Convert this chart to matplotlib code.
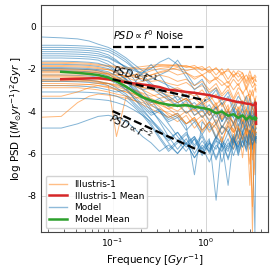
import numpy as np
import matplotlib
matplotlib.use("Agg")
import matplotlib.pyplot as plt
from matplotlib.lines import Line2D

plt.rcParams['axes.unicode_minus'] = False
plt.rcParams['font.family'] = ['DejaVu Sans']

# frequency grid of the single curves [1/Gyr]
freq = [0.015, 0.028, 0.042, 0.056, 0.07, 0.09, 0.11, 0.14, 0.17, 0.21,
        0.26, 0.32, 0.4, 0.5, 0.62, 0.76, 0.92, 1.1, 1.3, 1.5,
        1.75, 2.0, 2.25, 2.5, 2.75, 3.0, 3.2, 3.4, 3.5]

# Illustris-1 curves (log PSD)
ill_1 = [-1.75, -1.75, -1.78, -1.8, -1.85, -1.9, -1.95, -2.0, -1.95, -1.9, -1.85, -1.8, -1.82, -1.85, -1.9, -1.95, -2.0, -2.1, -2.0, -2.2, -2.1, -2.3, -2.2, -2.5, -2.3, -2.6, -2.4, -2.8, -3.0]
ill_2 = [-2.0, -2.0, -2.02, -2.05, -2.1, -2.2, -2.3, -2.35, -2.3, -2.25, -2.1, -2.0, -1.95, -2.05, -2.2, -2.4, -2.3, -2.6, -2.5, -2.8, -2.6, -3.0, -2.7, -3.2, -2.9, -3.4, -3.0, -3.6, -3.3]
ill_3 = [-2.2, -2.2, -2.2, -2.25, -2.3, -2.4, -2.5, -2.6, -2.7, -2.75, -2.8, -2.9, -3.0, -2.9, -3.1, -3.3, -3.0, -3.5, -3.2, -3.8, -3.4, -3.6, -4.2, -3.5, -3.9, -3.3, -4.4, -3.7, -4.0]
ill_4 = [-2.4, -2.4, -2.42, -2.45, -2.5, -2.55, -2.6, -2.7, -2.8, -2.9, -3.0, -3.1, -3.25, -3.3, -3.5, -3.4, -3.7, -3.5, -3.9, -3.6, -4.3, -3.8, -4.0, -4.6, -3.9, -4.2, -5.0, -4.1, -4.4]
ill_5 = [-2.6, -2.6, -2.6, -2.62, -2.65, -2.7, -2.8, -2.9, -3.0, -3.15, -3.3, -3.2, -3.45, -3.6, -3.4, -3.8, -3.6, -4.1, -3.7, -4.4, -3.9, -4.7, -4.0, -4.3, -5.2, -4.1, -4.5, -6.0, -4.2]
ill_6 = [-1.9, -1.9, -1.92, -1.95, -2.0, -2.05, -2.15, -2.2, -2.35, -2.5, -2.6, -2.55, -2.7, -2.8, -2.65, -2.95, -2.8, -3.1, -2.9, -3.3, -3.0, -3.5, -3.1, -3.7, -3.3, -3.2, -3.9, -3.4, -3.6]
ill_7 = [-4.3, -4.25, -3.6, -3.3, -3.2, -3.25, -3.3, -3.4, -3.5, -3.6, -3.75, -3.9, -4.1, -4.3, -4.0, -4.5, -4.2, -4.8, -4.4, -5.1, -4.5, -4.9, -5.6, -4.6, -5.0, -6.5, -4.8, -5.3, -5.0]
ill_8 = [-2.9, -2.9, -2.9, -2.95, -3.0, -3.1, -3.2, -3.3, -3.5, -3.7, -3.9, -4.1, -4.3, -4.1, -4.6, -4.3, -4.9, -4.5, -5.3, -4.7, -5.0, -5.8, -4.8, -5.4, -4.9, -5.6, -5.1, -7.0, -5.2]
ill_9 = [-2.3, -2.3, -2.3, -2.3, -2.35, -2.4, -2.45, -2.4, -2.3, -2.1, -1.95, -1.85, -1.9, -1.8, -1.95, -1.85, -2.1, -1.9, -2.3, -2.0, -2.5, -2.1, -2.4, -2.2, -2.7, -2.3, -2.5, -2.4, -2.6]
ill_10 = [-2.1, -2.1, -2.12, -2.15, -2.2, -2.3, -2.45, -2.6, -2.75, -2.9, -2.85, -3.0, -3.15, -3.0, -3.3, -3.1, -3.5, -3.2, -3.7, -3.4, -4.0, -3.5, -3.9, -3.6, -4.5, -3.7, -9.7, -3.9, -3.8]
ill_11 = [-2.7, -2.7, -2.72, -2.75, -2.8, -2.9, -3.0, -3.1, -3.2, -3.4, -3.6, -3.5, -3.8, -4.0, -3.7, -4.2, -4.0, -4.4, -4.1, -4.8, -4.3, -4.5, -5.3, -4.4, -4.7, -5.0, -8.5, -4.6, -4.8]
ill_12 = [-2.5, -2.5, -2.5, -2.55, -2.6, -2.8, -5.2, -3.3, -3.4, -3.3, -3.4, -3.6, -3.5, -3.8, -3.6, -4.0, -3.8, -4.2, -3.9, -4.4, -4.0, -4.6, -4.1, -4.8, -4.2, -5.0, -4.4, -4.6, -4.5]
ill_13 = [-1.7, -1.7, -1.72, -1.75, -1.8, -1.85, -1.9, -1.95, -2.0, -2.0, -1.95, -1.9, -1.85, -1.9, -1.85, -2.0, -1.9, -2.2, -1.95, -2.3, -2.0, -2.4, -2.1, -2.2, -2.6, -2.1, -2.5, -2.3, -2.4]
ill_14 = [-2.05, -2.05, -2.07, -2.1, -2.15, -2.25, -2.4, -2.55, -2.7, -2.6, -2.45, -2.3, -2.4, -2.6, -2.5, -2.8, -2.6, -3.0, -2.7, -3.2, -2.8, -3.4, -2.9, -3.1, -3.6, -3.0, -3.3, -2.9, -3.1]
ill_15 = [-2.35, -2.35, -2.37, -2.4, -2.45, -2.5, -2.55, -2.65, -2.8, -3.0, -3.2, -3.4, -3.3, -3.6, -3.4, -3.8, -3.5, -4.0, -3.6, -4.3, -3.7, -5.5, -3.8, -4.1, -3.9, -4.4, -3.8, -4.2, -4.0]
ill_16 = [-2.8, -2.8, -2.78, -2.75, -2.7, -2.7, -2.75, -2.85, -3.0, -3.2, -3.5, -3.8, -4.2, -4.5, -4.2, -4.8, -4.4, -5.0, -4.6, -5.4, -4.7, -5.0, -4.6, -6.2, -4.8, -5.2, -4.9, -5.1, -5.0]
ill_17 = [-3.3, -3.3, -3.1, -2.9, -2.8, -2.85, -2.95, -3.1, -3.3, -3.5, -3.7, -3.6, -3.9, -3.7, -4.1, -3.9, -4.3, -4.0, -4.6, -4.1, -4.4, -4.9, -4.2, -4.5, -4.3, -7.5, -4.4, -4.6, -4.5]
ill_18 = [-2.15, -2.15, -2.15, -2.18, -2.2, -2.25, -2.3, -2.35, -2.4, -2.35, -2.3, -2.2, -2.1, -2.3, -2.2, -2.5, -2.3, -2.7, -2.4, -2.6, -2.9, -2.5, -2.8, -2.5, -3.0, -2.6, -2.9, -2.7, -2.8]
ill_19 = [-2.55, -2.55, -2.55, -2.57, -2.6, -2.7, -2.85, -3.0, -3.2, -3.35, -3.5, -3.7, -3.9, -4.2, -4.6, -4.3, -5.0, -4.5, -4.8, -5.5, -4.6, -5.0, -4.7, -5.3, -4.8, -5.1, -6.3, -4.9, -5.0]
ill_20 = [-1.85, -1.85, -1.87, -1.9, -1.95, -2.05, -2.2, -2.4, -2.55, -2.45, -2.3, -2.15, -2.05, -1.95, -2.1, -2.0, -2.3, -2.1, -2.5, -2.2, -2.7, -2.3, -2.6, -2.35, -2.9, -2.4, -2.7, -2.5, -2.6]

# Model curves (log PSD)
mod_1 = [-0.5, -0.55, -0.6, -0.7, -0.85, -1.0, -1.2, -1.5, -1.8, -2.1, -2.4, -2.6, -2.8, -3.0, -3.3, -3.1, -3.6, -3.4, -3.9, -3.6, -4.2, -3.8, -4.5, -3.9, -4.3, -4.8, -4.0, -4.4, -4.2]
mod_2 = [-1.0, -1.0, -1.02, -1.05, -1.1, -1.2, -1.4, -1.7, -2.0, -2.4, -2.8, -3.1, -3.3, -3.6, -3.4, -3.9, -3.7, -4.2, -3.8, -4.5, -4.0, -4.3, -4.9, -4.1, -4.6, -4.2, -5.2, -4.4, -4.5]
mod_3 = [-1.2, -1.2, -1.22, -1.25, -1.3, -1.45, -1.65, -1.95, -2.3, -2.6, -2.5, -2.3, -2.1, -1.6, -2.2, -2.8, -2.5, -3.2, -2.9, -3.5, -3.1, -3.8, -3.3, -3.6, -4.1, -3.4, -3.8, -3.5, -3.7]
mod_4 = [-1.5, -1.5, -1.52, -1.55, -1.6, -1.8, -2.1, -2.5, -2.9, -3.3, -3.7, -4.0, -4.3, -4.1, -4.6, -4.4, -4.9, -4.5, -5.2, -4.7, -4.9, -5.6, -4.8, -5.1, -4.6, -5.3, -4.9, -5.0, -4.8]
mod_5 = [-1.8, -1.8, -1.82, -1.85, -1.9, -2.0, -2.2, -2.5, -2.8, -3.0, -2.9, -3.2, -3.5, -3.3, -3.8, -3.6, -4.0, -3.7, -4.3, -3.9, -4.6, -4.0, -4.4, -3.8, -4.7, -4.1, -4.3, -4.0, -4.2]
mod_6 = [-2.0, -2.0, -2.02, -2.05, -2.1, -2.25, -2.5, -2.9, -3.4, -3.9, -4.4, -4.8, -5.3, -5.0, -5.5, -5.2, -5.8, -5.3, -8.2, -5.4, -5.7, -5.1, -5.9, -5.3, -5.6, -5.0, -5.8, -5.2, -5.4]
mod_7 = [-2.3, -2.3, -2.32, -2.35, -2.4, -2.5, -2.7, -3.0, -3.3, -3.7, -4.1, -3.9, -4.4, -4.2, -4.7, -7.0, -4.5, -4.9, -4.6, -5.1, -4.7, -5.4, -4.8, -5.0, -4.6, -5.2, -4.7, -4.9, -4.6]
mod_8 = [-2.6, -2.6, -2.62, -2.65, -2.7, -2.8, -3.0, -3.3, -3.7, -4.1, -4.6, -5.2, -5.8, -5.4, -5.9, -5.3, -6.1, -5.5, -5.8, -5.2, -6.3, -5.4, -5.7, -5.1, -5.9, -5.3, -5.5, -9.7, -5.0]
mod_9 = [-4.8, -4.8, -4.6, -4.4, -4.25, -4.2, -4.3, -4.5, -4.8, -5.2, -5.5, -5.9, -5.6, -6.0, -5.5, -6.2, -5.7, -6.4, -5.6, -5.9, -5.3, -6.1, -5.4, -5.7, -5.2, -5.8, -5.3, -5.5, -5.2]
mod_10 = [-2.8, -2.8, -2.82, -2.85, -2.9, -3.0, -3.1, -3.0, -2.7, -2.2, -1.8, -2.3, -2.9, -3.5, -3.2, -3.9, -3.6, -4.2, -3.8, -4.5, -4.0, -4.3, -3.9, -4.6, -4.1, -4.4, -3.8, -4.2, -3.9]
mod_11 = [-1.4, -1.4, -1.42, -1.45, -1.5, -1.65, -1.9, -2.3, -2.8, -3.3, -3.9, -4.5, -5.2, -5.8, -5.3, -6.0, -5.4, -5.9, -5.2, -5.7, -5.0, -5.5, -4.9, -5.3, -4.8, -5.1, -4.7, -5.0, -4.8]
mod_12 = [-3.1, -3.1, -3.1, -3.12, -3.15, -3.2, -3.3, -3.5, -3.8, -4.2, -4.7, -5.3, -5.9, -5.5, -5.1, -5.7, -5.2, -6.0, -5.4, -5.6, -6.2, -5.3, -5.8, -5.0, -5.5, -4.9, -5.4, -5.1, -5.3]
mod_13 = [-0.9, -0.9, -0.92, -0.95, -1.0, -1.1, -1.3, -1.6, -1.95, -2.3, -2.7, -3.0, -3.4, -3.8, -3.5, -4.2, -3.9, -4.5, -4.0, -4.8, -4.2, -4.6, -4.1, -5.0, -4.3, -4.7, -4.2, -4.5, -4.4]
mod_14 = [-1.1, -1.1, -1.12, -1.15, -1.2, -1.35, -1.6, -2.0, -2.5, -3.0, -3.5, -4.0, -4.6, -5.2, -5.7, -5.3, -6.0, -5.5, -6.3, -5.6, -5.9, -5.2, -6.1, -5.4, -5.8, -5.1, -5.6, -5.3, -5.5]
mod_15 = [-1.3, -1.3, -1.32, -1.35, -1.4, -1.5, -1.7, -1.9, -2.1, -2.2, -2.0, -1.7, -1.5, -1.8, -2.4, -3.0, -2.7, -3.4, -3.0, -3.7, -3.3, -4.0, -3.5, -3.8, -3.3, -4.2, -3.6, -3.9, -3.7]
mod_16 = [-1.65, -1.65, -1.67, -1.7, -1.75, -1.9, -2.15, -2.55, -3.0, -3.5, -4.0, -4.4, -4.9, -5.4, -5.0, -5.6, -5.1, -5.8, -5.2, -5.5, -7.5, -5.3, -5.7, -5.0, -5.5, -4.9, -5.3, -5.0, -5.1]
mod_17 = [-2.1, -2.1, -2.12, -2.15, -2.2, -2.35, -2.6, -3.0, -3.4, -3.8, -4.2, -4.0, -4.5, -4.3, -4.9, -4.5, -5.1, -4.6, -5.3, -4.7, -5.0, -4.6, -5.2, -4.5, -4.9, -4.4, -4.8, -4.5, -4.6]
mod_18 = [-2.5, -2.5, -2.52, -2.55, -2.6, -2.7, -2.9, -3.2, -3.6, -4.0, -4.4, -4.9, -5.5, -6.0, -5.5, -6.2, -5.6, -5.9, -5.3, -6.4, -5.5, -5.8, -5.2, -5.7, -5.1, -5.6, -5.0, -5.4, -5.2]
mod_19 = [-1.95, -1.95, -1.97, -2.0, -2.05, -2.15, -2.35, -2.65, -3.0, -3.3, -3.6, -3.4, -3.8, -3.6, -4.1, -3.8, -4.3, -3.9, -4.6, -4.1, -4.4, -3.9, -4.7, -4.2, -4.5, -4.0, -4.6, -4.1, -4.3]
mod_20 = [-3.4, -3.4, -3.4, -3.42, -3.45, -3.5, -3.6, -3.75, -3.95, -4.2, -4.5, -4.9, -5.4, -5.0, -5.6, -5.2, -5.9, -5.4, -6.2, -5.5, -5.8, -5.2, -6.0, -5.4, -5.7, -5.1, -5.6, -5.2, -5.3]

illustris = [ill_1, ill_2, ill_3, ill_4, ill_5, ill_6, ill_7, ill_8, ill_9, ill_10,
             ill_11, ill_12, ill_13, ill_14, ill_15, ill_16, ill_17, ill_18, ill_19, ill_20]
model = [mod_1, mod_2, mod_3, mod_4, mod_5, mod_6, mod_7, mod_8, mod_9, mod_10,
         mod_11, mod_12, mod_13, mod_14, mod_15, mod_16, mod_17, mod_18, mod_19, mod_20]

# means
freq_mean = [0.028, 0.042, 0.056, 0.07, 0.09, 0.11, 0.14, 0.17, 0.21, 0.26,
             0.32, 0.4, 0.5, 0.62, 0.76, 0.92, 1.1, 1.3, 1.5, 1.75,
             2.0, 2.25, 2.5, 2.75, 3.0, 3.2, 3.4, 3.45, 3.5]
ill_mean = [-2.5, -2.48, -2.46, -2.45, -2.5, -2.58, -2.64, -2.7, -2.75, -2.8,
            -2.87, -3.0, -3.04, -3.1, -3.14, -3.2, -3.25, -3.33, -3.4, -3.47,
            -3.53, -3.58, -3.6, -3.65, -3.66, -3.72, -3.7, -3.6, -4.6]
mod_mean = [-2.15, -2.2, -2.25, -2.3, -2.42, -2.6, -2.85, -3.1, -3.35, -3.5,
            -3.62, -3.7, -3.75, -3.72, -3.8, -3.85, -3.92, -4.1, -4.02, -4.22,
            -4.15, -4.32, -4.2, -4.4, -4.25, -4.38, -4.28, -4.42, -4.35]

# reference power laws
ref_f = [0.1, 1.0]
ref_f0 = [-1.0, -1.0]
ref_f1 = [-2.5, -3.5]
ref_f2 = [-4.0, -6.0]

fig = plt.figure(figsize=(2.74, 2.74), dpi=100)
ax = fig.add_axes([0.15, 0.153, 0.828, 0.829])

# interleave the two sets so neither sits fully on top
for yi, ym in zip(illustris, model):
    ax.plot(freq, yi, color='C1', alpha=0.55, lw=0.7, zorder=2)
    ax.plot(freq, ym, color='C0', alpha=0.55, lw=0.7, zorder=2)

ax.plot(freq_mean, ill_mean, color='C3', lw=1.8, zorder=4)
ax.plot(freq_mean, mod_mean, color='C2', lw=1.8, zorder=4)

ax.plot(ref_f, ref_f0, 'k--', lw=1.6, zorder=5)
ax.plot(ref_f, ref_f1, 'k--', lw=1.6, zorder=5)
ax.plot(ref_f, ref_f2, 'k--', lw=1.6, zorder=5)

ax.text(0.1, -0.75, r'$PSD \propto f^0$ Noise', fontsize=7, va='bottom', ha='left', zorder=6)
ax.text(0.174, -2.28, r'$PSD \propto f^{-1}$', fontsize=7, va='center', ha='center',
        rotation=-14, zorder=6)
ax.text(0.157, -4.73, r'$PSD \propto f^{-2}$', fontsize=7, va='center', ha='center',
        rotation=-26, zorder=6)

ax.set_xscale('log')
ax.set_xlim(0.017, 4.7)
ax.set_ylim(-9.7, 1.0)
ax.set_yticks([0, -2, -4, -6, -8])
ax.grid(True, which='major', color='#d5d5d5', lw=0.7, zorder=0)
ax.tick_params(labelsize=6.5, which='both', direction='in', length=2, color='#555555')
ax.tick_params(which='major', length=0)
for s in ax.spines.values():
    s.set_color('#444444')
    s.set_linewidth(0.8)

ax.set_xlabel(r'Frequency [$Gyr^{-1}$]', fontsize=7.5, labelpad=2)
ax.set_ylabel(r'log PSD [$(M_{\odot}yr^{-1})^2 Gyr$ ]', fontsize=7.5, labelpad=2)

handles = [
    Line2D([], [], color='C1', alpha=0.5, lw=1.0),
    Line2D([], [], color='C3', lw=1.8),
    Line2D([], [], color='C0', alpha=0.5, lw=1.0),
    Line2D([], [], color='C2', lw=1.8),
]
labels = ['Illustris-1', 'Illustris-1 Mean', 'Model', 'Model Mean']
ax.legend(handles, labels, loc='lower left', fontsize=6.5, handlelength=2.0,
          borderpad=0.4, labelspacing=0.3, framealpha=0.85)

fig.savefig('out.png', dpi=100)
